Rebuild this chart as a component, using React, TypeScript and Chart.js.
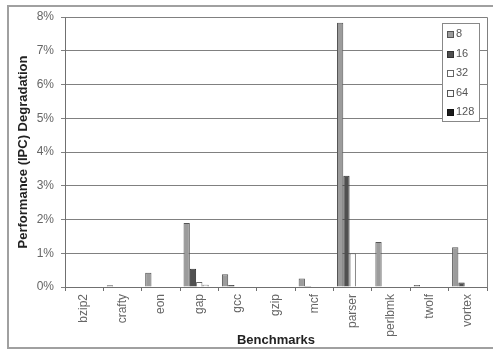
import React, { useEffect, useRef } from 'react';
import { Chart, registerables } from 'chart.js';

Chart.register(...registerables);

const categories = ['bzip2', 'crafty', 'eon', 'gap', 'gcc', 'gzip', 'mcf', 'parser', 'perlbmk', 'twolf', 'vortex'];
const seriesNames = ['8', '16', '32', '64', '128'];
const s8 = [0, 0.05, 0.42, 1.9, 0.38, 0, 0.25, 7.83, 1.33, 0.06, 1.18];
const s16 = [0, 0, 0, 0.54, 0.06, 0, 0.03, 3.3, 0, 0, 0.13];
const s32 = [0, 0, 0, 0.15, 0, 0, 0, 1.0, 0, 0, 0];
const s64 = [0, 0, 0, 0.07, 0, 0, 0, 0, 0, 0, 0];
const s128 = [0, 0, 0, 0, 0, 0, 0, 0, 0, 0, 0];
const yTickLabels = ['0%', '1%', '2%', '3%', '4%', '5%', '6%', '7%', '8%'];

const fills = ['#9c9c9c', '#505050', '#ffffff', '#fafafa', '#1c1c1c'];
const borders = ['#555555', '#333333', '#666666', '#555555', '#111111'];
const FONT = "'Liberation Sans', Arial, sans-serif";

export default function App() {
  const ref = useRef<HTMLCanvasElement>(null);

  useEffect(() => {
    const values = [s8, s16, s32, s64, s128];

    const framePlugin = {
      id: 'frame',
      beforeDraw(chart: any) {
        const ctx = chart.ctx;
        ctx.save();
        ctx.fillStyle = '#ffffff';
        ctx.fillRect(0, 0, chart.width, chart.height);
        ctx.strokeStyle = '#a0a0a0';
        ctx.lineWidth = 2;
        ctx.strokeRect(8, 6, chart.width + 10, 342);
        ctx.restore();
      },
      afterDatasetsDraw(chart: any) {
        const { ctx, chartArea } = chart;
        ctx.save();
        ctx.strokeStyle = '#808080';
        ctx.lineWidth = 1;
        ctx.beginPath();
        ctx.moveTo(Math.round(chartArea.left) + 0.5, Math.round(chartArea.top) + 0.5);
        ctx.lineTo(Math.round(chartArea.right) + 0.5, Math.round(chartArea.top) + 0.5);
        ctx.lineTo(Math.round(chartArea.right) + 0.5, Math.round(chartArea.bottom) + 0.5);
        ctx.stroke();
        ctx.restore();
      },
    };

    const legendPlugin = {
      id: 'insideLegend',
      afterDraw(chart: any) {
        const ctx = chart.ctx;
        ctx.save();
        const x = 442.5, y = 23.5, w = 37, h = 98;
        ctx.fillStyle = '#ffffff';
        ctx.strokeStyle = '#888888';
        ctx.lineWidth = 1;
        ctx.fillRect(x, y, w, h);
        ctx.strokeRect(x, y, w, h);
        ctx.font = `11px ${FONT}`;
        ctx.textBaseline = 'middle';
        ctx.textAlign = 'left';
        seriesNames.forEach((name, i) => {
          const cy = 34 + i * 19.5;
          ctx.fillStyle = fills[i];
          ctx.fillRect(447, Math.round(cy - 3), 6, 6);
          ctx.strokeStyle = borders[i];
          ctx.strokeRect(447.5, Math.round(cy - 3) + 0.5, 6, 6);
          ctx.fillStyle = '#555555';
          ctx.fillText(name, 456, cy);
        });
        ctx.restore();
      },
    };

    const chart = new Chart(ref.current!, {
      type: 'bar',
      data: {
        labels: categories,
        datasets: seriesNames.map((name, i) => ({
          label: name,
          data: values[i],
          backgroundColor: fills[i],
          borderColor: borders[i],
          borderWidth: 1,
          borderSkipped: 'start',
          categoryPercentage: 0.82,
          barPercentage: 1.0,
        })),
      },
      options: {
        animation: false,
        responsive: false,
        maintainAspectRatio: false,
        layout: { padding: { left: 0, right: 6, top: 17, bottom: 0 } },
        plugins: {
          legend: { display: false },
          tooltip: { enabled: false },
        },
        scales: {
          x: {
            grid: { offset: true, drawOnChartArea: false, tickLength: 4, color: '#707070' },
            border: { color: '#707070' },
            ticks: {
              minRotation: 90,
              maxRotation: 90,
              padding: 3,
              color: '#666666',
              font: { family: FONT, size: 12 },
              autoSkip: false,
            },
            title: {
              display: true,
              text: 'Benchmarks',
              color: '#222222',
              font: { family: FONT, size: 13, weight: 'bold' },
              padding: { top: 0, bottom: 2.2 },
            },
            afterFit: (s: any) => { s.height = 63; },
          },
          y: {
            min: 0,
            max: 8,
            grid: { color: '#808080', tickLength: 4 },
            border: { color: '#707070' },
            ticks: {
              stepSize: 1,
              padding: 7,
              color: '#666666',
              font: { family: FONT, size: 12 },
              callback: (v: any) => yTickLabels[Math.round(Number(v))],
            },
            title: {
              display: true,
              text: 'Performance (IPC) Degradation',
              color: '#222222',
              font: { family: FONT, size: 13, weight: 'bold' },
              padding: { top: 15.5, bottom: 0 },
            },
            afterFit: (s: any) => { s.width = 65; },
          },
        },
      },
      plugins: [framePlugin, legendPlugin],
    } as any);

    return () => chart.destroy();
  }, []);

  return (
    <div style={{ position: 'absolute', left: 0, top: 0, width: 493, height: 350 }}>
      <canvas ref={ref} width={493} height={350} style={{ display: 'block', width: 493, height: 350 }} />
    </div>
  );
}
